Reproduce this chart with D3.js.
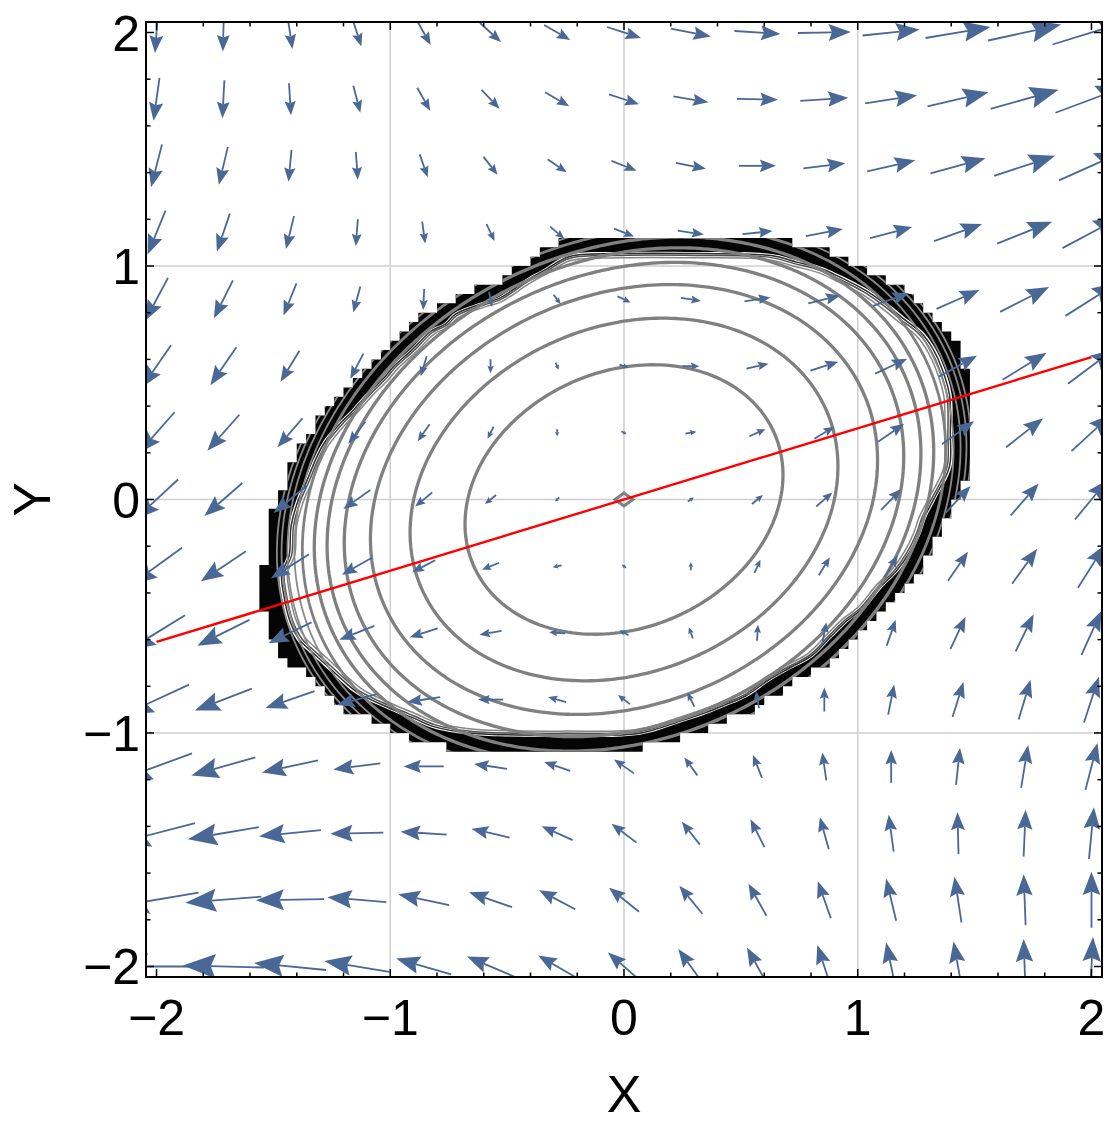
<!DOCTYPE html>
<html>
<head>
<meta charset="utf-8">
<script src="https://cdn.jsdelivr.net/npm/d3@7"></script>
<style>
  body { margin: 0; background: #fff; }
  text { font-family: "Liberation Sans", Arial, Helvetica, sans-serif; fill: #000; }
</style>
</head>
<body>
<div id="chart"></div>
<script>
// Sample points of the vector field (columns left to right, rows top to bottom)
var sampleX = [-2, -1.714, -1.429, -1.143, -0.857, -0.571, -0.286, 0, 0.286, 0.571, 0.857, 1.143, 1.429, 1.714, 2];
var sampleY = [2, 1.714, 1.429, 1.143, 0.857, 0.571, 0.286, 0, -0.286, -0.571, -0.857, -1.143, -1.429, -1.714, -2];

// Field components (x part, then y part)
var fieldU = [
  [-3, -1, 5, 9, 14, 21, 26, 34, 40, 46, 53, 57, 65, 73, 78],
  [-6, -2, 2, 7, 13, 18, 24, 30, 35, 41, 48, 52, 61, 68, 72],
  [-11, -9, -3, 2, 8, 14, 19, 25, 30, 37, 42, 48, 55, 61, 65],
  [-18, -13, -8, -2, 3, 8, 14, 20, 26, 30, 37, 42, 48, 55, 58],
  [-23, -19, -13, -7, -1, 3, 7, 13, 20, 26, 32, 36, 43, 49, 52],
  [-29, -26, -19, -13, -6, 0, 3, 9, 17, 22, 28, 32, 38, 44, 47],
  [-36, -32, -25, -17, -12, -6, 0, 5, 11, 16, 20, 26, 32, 37, 40],
  [-43, -38, -33, -27, -17, -11, -4, 0, 6, 11, 16, 20, 25, 28, 33],
  [-51, -45, -38, -30, -23, -17, -9, -4, 0, 6, 11, 13, 20, 25, 27],
  [-57, -52, -43, -35, -28, -22, -16, -9, -4, 1, 4, 9, 15, 18, 20],
  [-65, -57, -49, -40, -33, -25, -18, -12, -7, -3, 0, 6, 11, 12, 15],
  [-71, -64, -56, -47, -40, -33, -26, -20, -13, -9, -4, 0, 4, 7, 12],
  [-77, -71, -62, -53, -46, -38, -31, -25, -18, -14, -9, -5, -1, 2, 5],
  [-84, -76, -68, -59, -51, -43, -36, -30, -23, -18, -13, -10, -7, -2, 0],
  [-88, -81, -72, -65, -55, -47, -38, -32, -25, -21, -14, -10, -9, -2, 3]
];
var fieldV = [
  [-41, -38, -33, -28, -25, -19, -15, -11, -8, -3, 1, 6, 11, 16, 24],
  [-43, -38, -32, -27, -23, -19, -14, -10, -6, -1, 3, 8, 14, 19, 27],
  [-43, -38, -32, -28, -23, -18, -13, -10, -6, 0, 5, 11, 15, 20, 29],
  [-44, -38, -33, -27, -22, -17, -12, -8, -4, 3, 7, 11, 17, 22, 31],
  [-43, -38, -32, -26, -21, -15, -9, -6, -3, 4, 8, 13, 19, 25, 33],
  [-42, -38, -31, -25, -20, -14, -7, -3, 0, 5, 9, 15, 21, 27, 35],
  [-41, -36, -29, -22, -17, -12, -7, -3, 2, 7, 12, 18, 23, 29, 37],
  [-40, -33, -27, -19, -14, -9, -4, 0, 4, 9, 14, 21, 27, 32, 40],
  [-37, -30, -24, -17, -12, -7, -2, 3, 8, 13, 18, 22, 29, 35, 43],
  [-35, -26, -21, -14, -9, -4, 1, 5, 11, 16, 21, 26, 32, 37, 44],
  [-30, -22, -17, -11, -5, 0, 5, 9, 14, 17, 24, 30, 35, 40, 46],
  [-26, -18, -12, -6, 0, 5, 9, 14, 18, 23, 28, 33, 37, 43, 47],
  [-20, -12, -6, -1, 3, 9, 14, 19, 23, 28, 32, 37, 42, 47, 52],
  [-14, -6, -1, 5, 11, 15, 19, 24, 28, 32, 37, 42, 46, 51, 56],
  [0, 2, 7, 11, 16, 20, 22, 28, 35, 38, 43, 48, 50, 55, 59]
];

// Contoured quadratic form  a*x^2 + b*x*y + c*y^2
var formCoef = [0.72, -0.31, 1.0];
var thickLevels = [0.322, 0.583, 0.819, 0.997, 1.123, 1.222];
var thinLevels = [1.318, 1.384, 1.443, 1.494, 1.535];
var centerLevels = [0.0011];

// Outer (jagged) edge of the contoured region, and the scales of the crowded lines inside it
var edgeX = [-0.248, -0.013, 0.330, 0.672, 0.788, 0.899, 0.985, 1.101, 1.199, 1.272, 1.358, 1.413, 1.452, 1.486, 1.490, 1.486, 1.413, 1.370, 1.345, 1.302, 1.242, 1.173, 1.088, 1.015, 0.942, 0.857, 0.758, 0.660, 0.557, 0.458, 0.373, 0.257, 0.073, -0.270, -0.698, -0.869, -0.968, -1.071, -1.212, -1.285, -1.383, -1.439, -1.482, -1.525, -1.555, -1.563, -1.529, -1.520, -1.486, -1.448, -1.413, -1.370, -1.289, -1.246, -1.169, -1.096, -1.049, -0.968, -0.882, -0.814, -0.771, -0.642, -0.570, -0.441, -0.364];
var edgeY = [1.111, 1.124, 1.124, 1.115, 1.085, 1.056, 1.017, 0.957, 0.889, 0.829, 0.761, 0.684, 0.598, 0.479, 0.299, 0.150, 0, -0.085, -0.158, -0.244, -0.329, -0.397, -0.5, -0.556, -0.628, -0.714, -0.769, -0.825, -0.897, -0.940, -0.974, -1.013, -1.068, -1.077, -1.068, -1.038, -0.996, -0.953, -0.885, -0.825, -0.735, -0.684, -0.641, -0.556, -0.427, -0.342, -0.256, -0.120, 0, 0.085, 0.171, 0.256, 0.355, 0.397, 0.483, 0.556, 0.611, 0.684, 0.769, 0.803, 0.846, 0.897, 0.919, 1.004, 1.047];
var bandInset = 0.943;
var crowdScales = [0.937, 0.93, 0.921];

// Red line
var lineX = [-2, 2];
var lineY = [-0.61, 0.61];

// Ticks
var majorTicks = [-2, -1, 0, 1, 2];
var minorTicks = [-1.8, -1.6, -1.4, -1.2, -0.8, -0.6, -0.4, -0.2, 0.2, 0.4, 0.6, 0.8, 1.2, 1.4, 1.6, 1.8];
var gridValues = [-1, 0, 1];

var svgWidth = 1109;
var svgHeight = 1130;
var plot = { left: 146, right: 1102, top: 22, bottom: 977 };
var arrowColor = "#4a6896";

var svg = d3.select("#chart")
  .append("svg")
    .attr("width", svgWidth)
    .attr("height", svgHeight);

svg.append("rect").attr("width", svgWidth).attr("height", svgHeight).attr("fill", "#fff");

var xScale = d3.scaleLinear().domain([-2.045, 2.045]).range([plot.left, plot.right]);
var yScale = d3.scaleLinear().domain([-2.045, 2.045]).range([plot.bottom, plot.top]);

var defs = svg.append("defs");
defs.append("clipPath").attr("id", "plotClip")
  .append("rect")
    .attr("x", plot.left).attr("y", plot.top)
    .attr("width", plot.right - plot.left).attr("height", plot.bottom - plot.top);

// Grid lines
var gridG = svg.append("g");
gridG.selectAll(".gx").data(gridValues).enter().append("line")
  .attr("x1", d => xScale(d)).attr("x2", d => xScale(d))
  .attr("y1", plot.top).attr("y2", plot.bottom)
  .attr("stroke", "#cfcfcf").attr("stroke-width", 1.5);
gridG.selectAll(".gy").data(gridValues).enter().append("line")
  .attr("y1", d => yScale(d)).attr("y2", d => yScale(d))
  .attr("x1", plot.left).attr("x2", plot.right)
  .attr("stroke", "#cfcfcf").attr("stroke-width", 1.5);

// Jagged region: cells of a coarse sampling grid that fall inside the edge
var edgePoly = edgeX.map((x, i) => [x, edgeY[i]]);
var cellStep = 0.04;
var cellOrigin = -2.06;
var cellCount = 104;
var runs = [];
for (var j = 0; j < cellCount; j++) {
  var cy = cellOrigin + j * cellStep;
  var start = -1;
  for (var i = 0; i <= cellCount; i++) {
    var cx = cellOrigin + i * cellStep;
    var inside = i < cellCount && d3.polygonContains(edgePoly, [cx, cy]);
    if (inside && start < 0) start = i;
    if (!inside && start >= 0) {
      runs.push({ x0: cellOrigin + (start - 0.5) * cellStep, x1: cellOrigin + (i - 0.5) * cellStep,
                  y0: cy - cellStep / 2, y1: cy + cellStep / 2 });
      start = -1;
    }
  }
}
function runsPath() {
  return runs.map(r => {
    var x0 = xScale(r.x0), x1 = xScale(r.x1), y0 = yScale(r.y1), y1 = yScale(r.y0);
    return "M" + x0 + "," + y0 + "H" + x1 + "V" + y1 + "H" + x0 + "Z";
  }).join("");
}
function scaledEdge(k) {
  return d3.line()
    .x(d => xScale(d[0] * k))
    .y(d => yScale(d[1] * k))
    .curve(d3.curveCatmullRomClosed)(edgePoly);
}

defs.append("clipPath").attr("id", "regionClip")
  .append("path").attr("d", runsPath());

svg.append("path")
  .attr("d", runsPath() + scaledEdge(bandInset))
  .attr("fill", "#050505")
  .attr("fill-rule", "evenodd");

// Contours of the quadratic form
function formGrid(origin, step, n) {
  var values = new Array(n * n);
  for (var j = 0; j < n; j++) {
    for (var i = 0; i < n; i++) {
      var x = origin + i * step, y = origin + j * step;
      values[j * n + i] = formCoef[0] * x * x + formCoef[1] * x * y + formCoef[2] * y * y;
    }
  }
  return values;
}
function gridPath(origin, step) {
  return d3.geoPath(d3.geoTransform({
    point: function(X, Y) {
      this.stream.point(xScale(origin + (X - 0.5) * step), yScale(origin + (Y - 0.5) * step));
    }
  }));
}

var fineStep = 0.02, fineOrigin = -2.04, fineN = 205;
var fineValues = formGrid(fineOrigin, fineStep, fineN);
var finePath = gridPath(fineOrigin, fineStep);
var contourG = svg.append("g").attr("clip-path", "url(#regionClip)");

// crowded lines just inside the band
contourG.selectAll(".crowd").data(crowdScales).enter().append("path")
  .attr("d", d => scaledEdge(d))
  .attr("fill", "none")
  .attr("stroke", (d, i) => ["#2e2e2e", "#505050", "#858585"][i])
  .attr("stroke-width", 1.5);

contourG.selectAll(".thin")
  .data(d3.contours().size([fineN, fineN]).thresholds(thinLevels)(fineValues))
  .enter().append("path")
    .attr("d", finePath)
    .attr("fill", "none")
    .attr("stroke", (d, i) => i === 0 ? "#808080" : "#8a8a8a")
    .attr("stroke-width", (d, i) => i === 0 ? 2.8 : 1.8);

contourG.selectAll(".thick")
  .data(d3.contours().size([fineN, fineN]).thresholds(thickLevels)(fineValues))
  .enter().append("path")
    .attr("d", finePath)
    .attr("fill", "none")
    .attr("stroke", "#808080")
    .attr("stroke-width", 3.3);

var coarseStep = 0.04, coarseOrigin = -2.0, coarseN = 101;
contourG.append("g").selectAll("path")
  .data(d3.contours().size([coarseN, coarseN]).thresholds(centerLevels)(formGrid(coarseOrigin, coarseStep, coarseN)))
  .enter().append("path")
    .attr("d", gridPath(coarseOrigin, coarseStep))
    .attr("fill", "none")
    .attr("stroke", "#808080")
    .attr("stroke-width", 3);

// Arrows
var arrowScale = 4.09 / 956; // data units per field unit
var arrowG = svg.append("g").attr("clip-path", "url(#plotClip)");
sampleY.forEach(function(y, r) {
  sampleX.forEach(function(x, c) {
    var u = fieldU[r][c] * arrowScale, v = fieldV[r][c] * arrowScale;
    var tx = xScale(x - u / 2), ty = yScale(y - v / 2);
    var hx = xScale(x + u / 2), hy = yScale(y + v / 2);
    var dx = hx - tx, dy = hy - ty;
    var len = Math.sqrt(dx * dx + dy * dy);
    if (len < 1) return;
    var ux = dx / len, uy = dy / len;
    var headLen = Math.min(0.38 * len + 2, len * 0.6), headW = 0.135 * len + 1.3;
    var bx = hx - ux * headLen, by = hy - uy * headLen;
    var nx = hx - ux * headLen * 0.85, ny = hy - uy * headLen * 0.85;
    arrowG.append("line")
      .attr("x1", tx).attr("y1", ty).attr("x2", nx).attr("y2", ny)
      .attr("stroke", arrowColor).attr("stroke-width", 1.8);
    arrowG.append("path")
      .attr("d", "M" + hx + "," + hy +
        "L" + (bx - uy * headW) + "," + (by + ux * headW) +
        "L" + nx + "," + ny +
        "L" + (bx + uy * headW) + "," + (by - ux * headW) + "Z")
      .attr("fill", arrowColor);
  });
});

// Red line
svg.append("line")
  .attr("x1", xScale(lineX[0])).attr("y1", yScale(lineY[0]))
  .attr("x2", xScale(lineX[1])).attr("y2", yScale(lineY[1]))
  .attr("stroke", "#ff0000").attr("stroke-width", 2.4);

// Frame and ticks
svg.append("rect")
  .attr("x", plot.left).attr("y", plot.top)
  .attr("width", plot.right - plot.left).attr("height", plot.bottom - plot.top)
  .attr("fill", "none").attr("stroke", "#000").attr("stroke-width", 2);

var tickG = svg.append("g").attr("stroke", "#000").attr("stroke-width", 1.5);
function addTicks(values, size) {
  values.forEach(function(t) {
    tickG.append("line").attr("x1", xScale(t)).attr("x2", xScale(t)).attr("y1", plot.bottom).attr("y2", plot.bottom - size);
    tickG.append("line").attr("x1", xScale(t)).attr("x2", xScale(t)).attr("y1", plot.top).attr("y2", plot.top + size);
    tickG.append("line").attr("y1", yScale(t)).attr("y2", yScale(t)).attr("x1", plot.left).attr("x2", plot.left + size);
    tickG.append("line").attr("y1", yScale(t)).attr("y2", yScale(t)).attr("x1", plot.right).attr("x2", plot.right - size);
  });
}
addTicks(majorTicks, 8);
addTicks(minorTicks, 4.5);

function fmt(d) { return d < 0 ? "\u2212" + Math.abs(d) : String(d); }

svg.append("g").selectAll("text").data(majorTicks).enter().append("text")
  .attr("x", d => xScale(d))
  .attr("y", 1035)
  .attr("text-anchor", "middle")
  .style("font-size", "50px")
  .text(fmt);

svg.append("g").selectAll("text").data(majorTicks).enter().append("text")
  .attr("x", 140)
  .attr("y", d => yScale(d))
  .attr("dy", "0.36em")
  .attr("text-anchor", "end")
  .style("font-size", "50px")
  .text(fmt);

svg.append("text")
  .attr("x", xScale(0))
  .attr("y", 1112)
  .attr("text-anchor", "middle")
  .style("font-size", "52px")
  .text("X");

svg.append("text")
  .attr("transform", "translate(50," + yScale(0) + ") rotate(-90)")
  .attr("text-anchor", "middle")
  .style("font-size", "52px")
  .text("Y");
</script>
</body>
</html>
